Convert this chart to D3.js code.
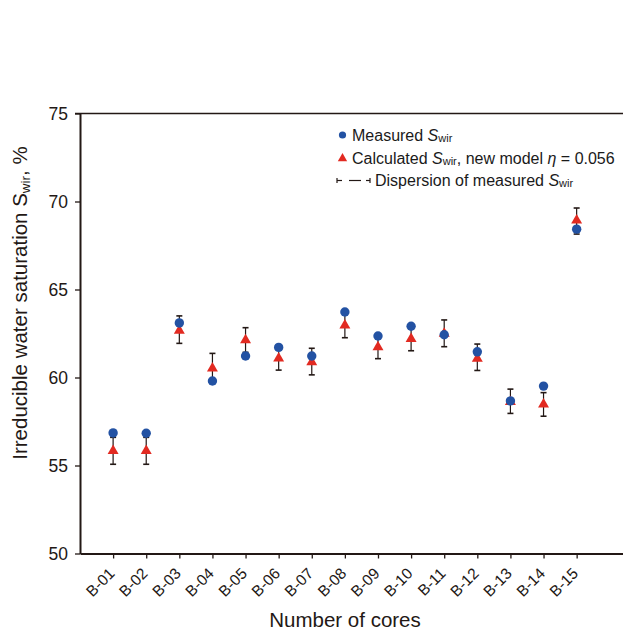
<!DOCTYPE html>
<html>
<head>
<meta charset="utf-8">
<script src="https://cdn.jsdelivr.net/npm/d3@7"></script>
<style>
  body { margin: 0; background: #fff; }
  svg { font-family: "Liberation Sans", Arial, sans-serif; }
</style>
</head>
<body>
<div id="chart"></div>
<script>
// data
const cores = ["B-01", "B-02", "B-03", "B-04", "B-05", "B-06", "B-07", "B-08",
               "B-09", "B-10", "B-11", "B-12", "B-13", "B-14", "B-15"];
const measured = [56.85, 56.83, 63.10, 59.80, 61.22, 61.71, 61.22, 63.72,
                  62.36, 62.91, 62.43, 61.46, 58.67, 59.51, 68.43];
const calculated = [55.83, 55.83, 62.66, 60.52, 62.13, 61.09, 60.88, 62.97,
                    61.73, 62.20, 62.50, 61.08, 58.62, 58.47, 68.93];
const dispersionHigh = [56.60, 56.60, 63.50, 61.37, 62.83, 61.76, 61.66, 63.68,
                        62.40, 62.88, 63.27, 61.90, 59.34, 59.14, 69.63];
const dispersionLow = [55.07, 55.07, 61.94, 59.67, 61.43, 60.42, 60.15, 62.26,
                       61.07, 61.52, 61.75, 60.40, 57.96, 57.80, 68.15];
const yTicks = [50, 55, 60, 65, 70, 75];

const width = 623, height = 633;
const margin = { top: 113.5, left: 80, bottom: 79.5 };
const axisColor = "#231815";
const blue = "#2352a3";
const red = "#e22a21";

const svg = d3.select("#chart").append("svg")
    .attr("width", width)
    .attr("height", height);

const x = d3.scaleLinear().domain([0, 16.4]).range([margin.left, width]);
const y = d3.scaleLinear().domain([50, 75]).range([height - margin.bottom, margin.top]);

// top border line
svg.append("line")
    .attr("x1", margin.left - 5).attr("x2", width)
    .attr("y1", y(75)).attr("y2", y(75))
    .attr("stroke", axisColor).attr("stroke-width", 1.3);

// y axis
const gY = svg.append("g")
    .attr("transform", "translate(" + margin.left + ",0)")
    .call(d3.axisLeft(y).tickValues(yTicks).tickSize(5).tickSizeOuter(0));
gY.select(".domain").attr("stroke", axisColor).attr("stroke-width", 2);
gY.selectAll(".tick line").attr("stroke", axisColor).attr("stroke-width", 1.3);
gY.selectAll(".tick text")
    .attr("x", -12)
    .attr("font-size", "17.5px")
    .attr("fill", "#231815")
    .attr("font-family", "Liberation Sans, Arial, sans-serif");

// x axis
const gX = svg.append("g")
    .attr("transform", "translate(0," + y(50) + ")")
    .call(d3.axisBottom(x)
        .tickValues(d3.range(1, cores.length + 1))
        .tickFormat(i => cores[i - 1])
        .tickSize(5).tickSizeOuter(0));
gX.select(".domain").attr("stroke", axisColor).attr("stroke-width", 2);
gX.selectAll(".tick line").attr("stroke", axisColor).attr("stroke-width", 1.3);
gX.selectAll(".tick text")
    .attr("font-size", "15.5px")
    .attr("fill", "#231815")
    .attr("font-family", "Liberation Sans, Arial, sans-serif")
    .attr("text-anchor", "end")
    .attr("dy", 0)
    .attr("transform", "translate(2,21) rotate(-45)")
    .attr("y", 0).attr("x", 0);

// axis titles
svg.append("text")
    .attr("x", 345).attr("y", 627)
    .attr("text-anchor", "middle")
    .attr("font-size", "20.5px")
    .attr("fill", "#231815")
    .text("Number of cores");

const yTitle = svg.append("text")
    .attr("transform", "translate(27,303) rotate(-90)")
    .attr("text-anchor", "middle")
    .attr("font-size", "20.5px")
    .attr("fill", "#231815");
yTitle.append("tspan").text("Irreducible water saturation S");
yTitle.append("tspan").attr("font-size", "13.5px").attr("dy", 3).text("wir");
yTitle.append("tspan").attr("dy", -3).text(", %");

// dispersion bars (drawn first, markers sit on top)
const bars = svg.append("g").selectAll("g")
    .data(cores.map((c, i) => ({ i: i + 1, lo: dispersionLow[i], hi: dispersionHigh[i] })))
    .join("g")
    .attr("stroke", "#231815");
bars.append("line")
    .attr("x1", d => x(d.i)).attr("x2", d => x(d.i))
    .attr("y1", d => y(d.lo)).attr("y2", d => y(d.hi))
    .attr("stroke-width", 1.2);
bars.append("line")
    .attr("x1", d => x(d.i) - 3).attr("x2", d => x(d.i) + 3)
    .attr("y1", d => y(d.lo)).attr("y2", d => y(d.lo))
    .attr("stroke-width", 1.6);
bars.append("line")
    .attr("x1", d => x(d.i) - 3).attr("x2", d => x(d.i) + 3)
    .attr("y1", d => y(d.hi)).attr("y2", d => y(d.hi))
    .attr("stroke-width", 1.6);

// calculated, triangles
const tri = d3.symbol().type(d3.symbolTriangle).size(52);
svg.append("g").selectAll("path")
    .data(calculated)
    .join("path")
    .attr("d", tri)
    .attr("transform", (d, i) => "translate(" + x(i + 1) + "," + y(d) + ")")
    .attr("fill", red);

// measured, circles
svg.append("g").selectAll("circle")
    .data(measured)
    .join("circle")
    .attr("cx", (d, i) => x(i + 1))
    .attr("cy", d => y(d))
    .attr("r", 4.7)
    .attr("fill", blue);

// legend
const legend = svg.append("g").attr("font-size", "16px").attr("fill", "#1a1a1a");
legend.append("circle").attr("cx", 342.5).attr("cy", 135).attr("r", 3.6).attr("fill", blue);
let t = legend.append("text").attr("x", 352).attr("y", 141);
t.append("tspan").text("Measured ");
t.append("tspan").attr("font-style", "italic").text("S");
t.append("tspan").attr("font-size", "11px").attr("dy", 1).text("wir");

legend.append("path")
    .attr("d", d3.symbol().type(d3.symbolTriangle).size(38))
    .attr("transform", "translate(342.5,158.5)")
    .attr("fill", red);
t = legend.append("text").attr("x", 352).attr("y", 164);
t.append("tspan").text("Calculated ");
t.append("tspan").attr("font-style", "italic").text("S");
t.append("tspan").attr("font-size", "11px").attr("dy", 1).text("wir");
t.append("tspan").attr("dy", -1).text(", new model  ");
t.append("tspan").attr("font-style", "italic").text("η");
t.append("tspan").text(" = 0.056");

const sym = legend.append("g").attr("stroke", "#231815").attr("stroke-width", 1.2);
sym.append("line").attr("x1", 337).attr("x2", 337).attr("y1", 178).attr("y2", 183);
sym.append("line").attr("x1", 337).attr("x2", 342).attr("y1", 180.5).attr("y2", 180.5);
sym.append("line").attr("x1", 349).attr("x2", 361).attr("y1", 180.5).attr("y2", 180.5);
sym.append("line").attr("x1", 366).attr("x2", 370).attr("y1", 180.5).attr("y2", 180.5);
sym.append("line").attr("x1", 370).attr("x2", 370).attr("y1", 178).attr("y2", 183);
t = legend.append("text").attr("x", 375).attr("y", 186);
t.append("tspan").text("Dispersion of measured ");
t.append("tspan").attr("font-style", "italic").text("S");
t.append("tspan").attr("font-size", "11px").attr("dy", 1).text("wir");
</script>
</body>
</html>
